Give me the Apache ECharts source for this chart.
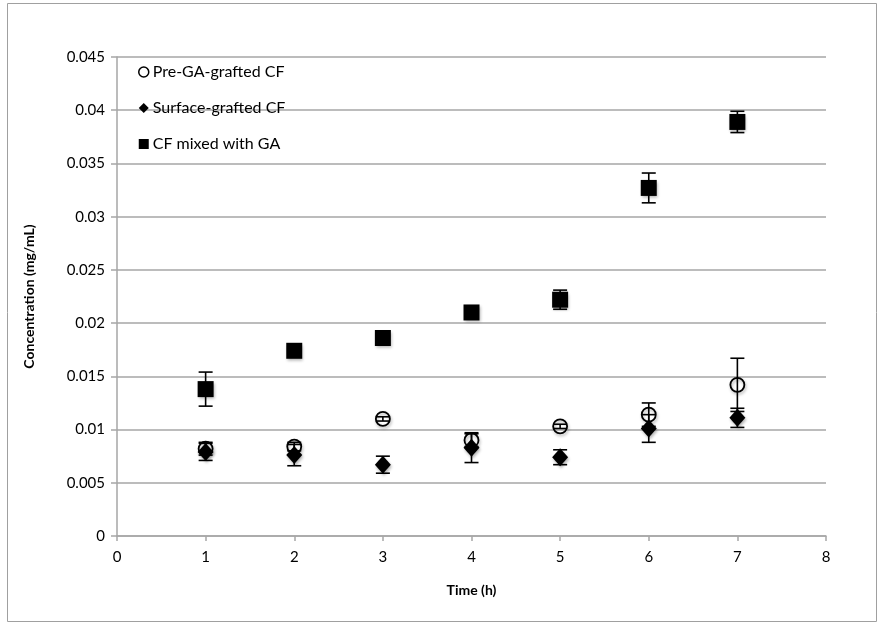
<!DOCTYPE html>
<html>
<head>
<meta charset="utf-8">
<script src="https://cdn.jsdelivr.net/npm/echarts@6/dist/echarts.min.js"></script>
<style>
  html, body { margin: 0; padding: 0; background: #fff; }
  #chart { width: 879px; height: 625px; }
</style>
</head>
<body>
<div id="chart"></div>
<script>
// Release time points (h)
const times = [1, 2, 3, 4, 5, 6, 7];

// Mean concentration (mg/mL) and standard deviation for each formulation
const preGrafted     = [0.0082, 0.0084, 0.0110, 0.0090, 0.0103, 0.0114, 0.0142];
const preGraftedErr  = [0.0006, 0.0004, 0.0002, 0.0006, 0.0002, 0.0011, 0.0025];
const surfGrafted    = [0.0079, 0.0076, 0.0067, 0.0083, 0.0074, 0.0101, 0.0111];
const surfGraftedErr = [0.0008, 0.0010, 0.0008, 0.0014, 0.0007, 0.0013, 0.0009];
const mixedGA        = [0.0138, 0.0174, 0.0186, 0.0210, 0.0222, 0.0327, 0.0389];
const mixedGAErr     = [0.0016, 0.0004, 0.0002, 0.0003, 0.0009, 0.0014, 0.0010];

const seriesNames = ['Pre-GA-grafted CF', 'Surface-grafted CF', 'CF mixed with GA'];

// Axis ranges and tick spacing
const xMin = 0, xMax = 8, xStep = 1;
const yMin = 0, yMax = 0.045, yStep = 0.005;

const FONT = 'Lato, "Liberation Sans", sans-serif';

function points(values) {
  return times.map((t, i) => [t, values[i]]);
}
function errRows(values, errs) {
  return times.map((t, i) => [t, values[i] - errs[i], values[i] + errs[i]]);
}

// Vertical error bar with end caps, positioned through the axis scales
function renderErrorBar(params, api) {
  const x = api.value(0);
  const lo = api.coord([x, api.value(1)]);
  const hi = api.coord([x, api.value(2)]);
  const half = 7;
  const style = { stroke: '#000', lineWidth: 1.6 };
  return {
    type: 'group',
    children: [
      { type: 'line', shape: { x1: lo[0], y1: lo[1], x2: hi[0], y2: hi[1] }, style },
      { type: 'line', shape: { x1: lo[0] - half, y1: lo[1], x2: lo[0] + half, y2: lo[1] }, style },
      { type: 'line', shape: { x1: hi[0] - half, y1: hi[1], x2: hi[0] + half, y2: hi[1] }, style }
    ]
  };
}

function errorSeries(values, errs) {
  return {
    type: 'custom',
    renderItem: renderErrorBar,
    data: errRows(values, errs),
    encode: { x: 0, y: [1, 2] },
    z: 3,
    silent: true
  };
}

const shadow = { opacity: 1, shadowBlur: 3, shadowOffsetX: 1, shadowOffsetY: 2, shadowColor: 'rgba(0,0,0,0.3)' };

const chart = echarts.init(document.getElementById('chart'), null, { renderer: 'canvas' });

chart.setOption({
  animation: false,
  backgroundColor: '#fff',
  graphic: [{
    type: 'rect',
    shape: { x: 7.5, y: 3.5, width: 869, height: 618 },
    style: { fill: 'none', stroke: '#a0a0a0', lineWidth: 1 },
    silent: true,
    z: -1
  }],
  grid: { left: 117, right: 53, top: 57, bottom: 89 },
  legend: {
    orient: 'vertical',
    left: 133,
    top: 59,
    itemGap: 20,
    itemWidth: 10,
    itemHeight: 10,
    textStyle: { fontFamily: FONT, fontSize: 16, color: '#000', padding: [0, 0, 0, -1] },
    data: [
      { name: seriesNames[0], icon: 'circle', itemStyle: { color: '#fff', borderColor: '#000', borderWidth: 1.5 } },
      { name: seriesNames[1], icon: 'diamond', itemStyle: { color: '#000' } },
      { name: seriesNames[2], icon: 'rect', itemStyle: { color: '#000' } }
    ]
  },
  xAxis: {
    type: 'value',
    min: xMin, max: xMax, interval: xStep,
    name: 'Time (h)',
    nameLocation: 'middle',
    nameGap: 47,
    nameTextStyle: { fontFamily: FONT, fontSize: 14, fontWeight: 'bold', color: '#000' },
    axisLine: { lineStyle: { color: '#a6a6a6', width: 1.5 } },
    axisTick: { show: true, length: 5, lineStyle: { color: '#a6a6a6', width: 1.5 } },
    axisLabel: { fontFamily: FONT, fontSize: 15, color: '#000', margin: 14 },
    splitLine: { show: false }
  },
  yAxis: {
    type: 'value',
    min: yMin, max: yMax, interval: yStep,
    name: 'Concentration (mg/mL)',
    nameLocation: 'middle',
    nameGap: 81,
    nameTextStyle: { fontFamily: FONT, fontSize: 14, fontWeight: 'bold', color: '#000' },
    axisLine: { show: true, lineStyle: { color: '#a6a6a6', width: 1.5 } },
    axisTick: { show: true, length: 6, lineStyle: { color: '#a6a6a6', width: 1.5 } },
    axisLabel: {
      fontFamily: FONT, fontSize: 15, color: '#000', margin: 12,
      formatter: v => (v === 0 ? '0' : String(parseFloat(v.toFixed(3))))
    },
    splitLine: { show: true, lineStyle: { color: '#a6a6a6', width: 1.5 } }
  },
  series: [
    errorSeries(mixedGA, mixedGAErr),
    errorSeries(surfGrafted, surfGraftedErr),
    errorSeries(preGrafted, preGraftedErr),
    {
      name: seriesNames[2],
      type: 'scatter',
      symbol: 'rect',
      symbolSize: 16,
      data: points(mixedGA),
      itemStyle: Object.assign({ color: '#000' }, shadow),
      z: 4
    },
    {
      name: seriesNames[1],
      type: 'scatter',
      symbol: 'diamond',
      symbolSize: [16, 18],
      data: points(surfGrafted),
      itemStyle: Object.assign({ color: '#000' }, shadow),
      z: 5
    },
    {
      name: seriesNames[0],
      type: 'scatter',
      symbol: 'circle',
      symbolSize: 14,
      data: points(preGrafted),
      itemStyle: Object.assign({ color: 'rgba(255,255,255,0)', borderColor: '#000', borderWidth: 1.8 }, shadow),
      z: 6
    }
  ]
});
</script>
</body>
</html>
